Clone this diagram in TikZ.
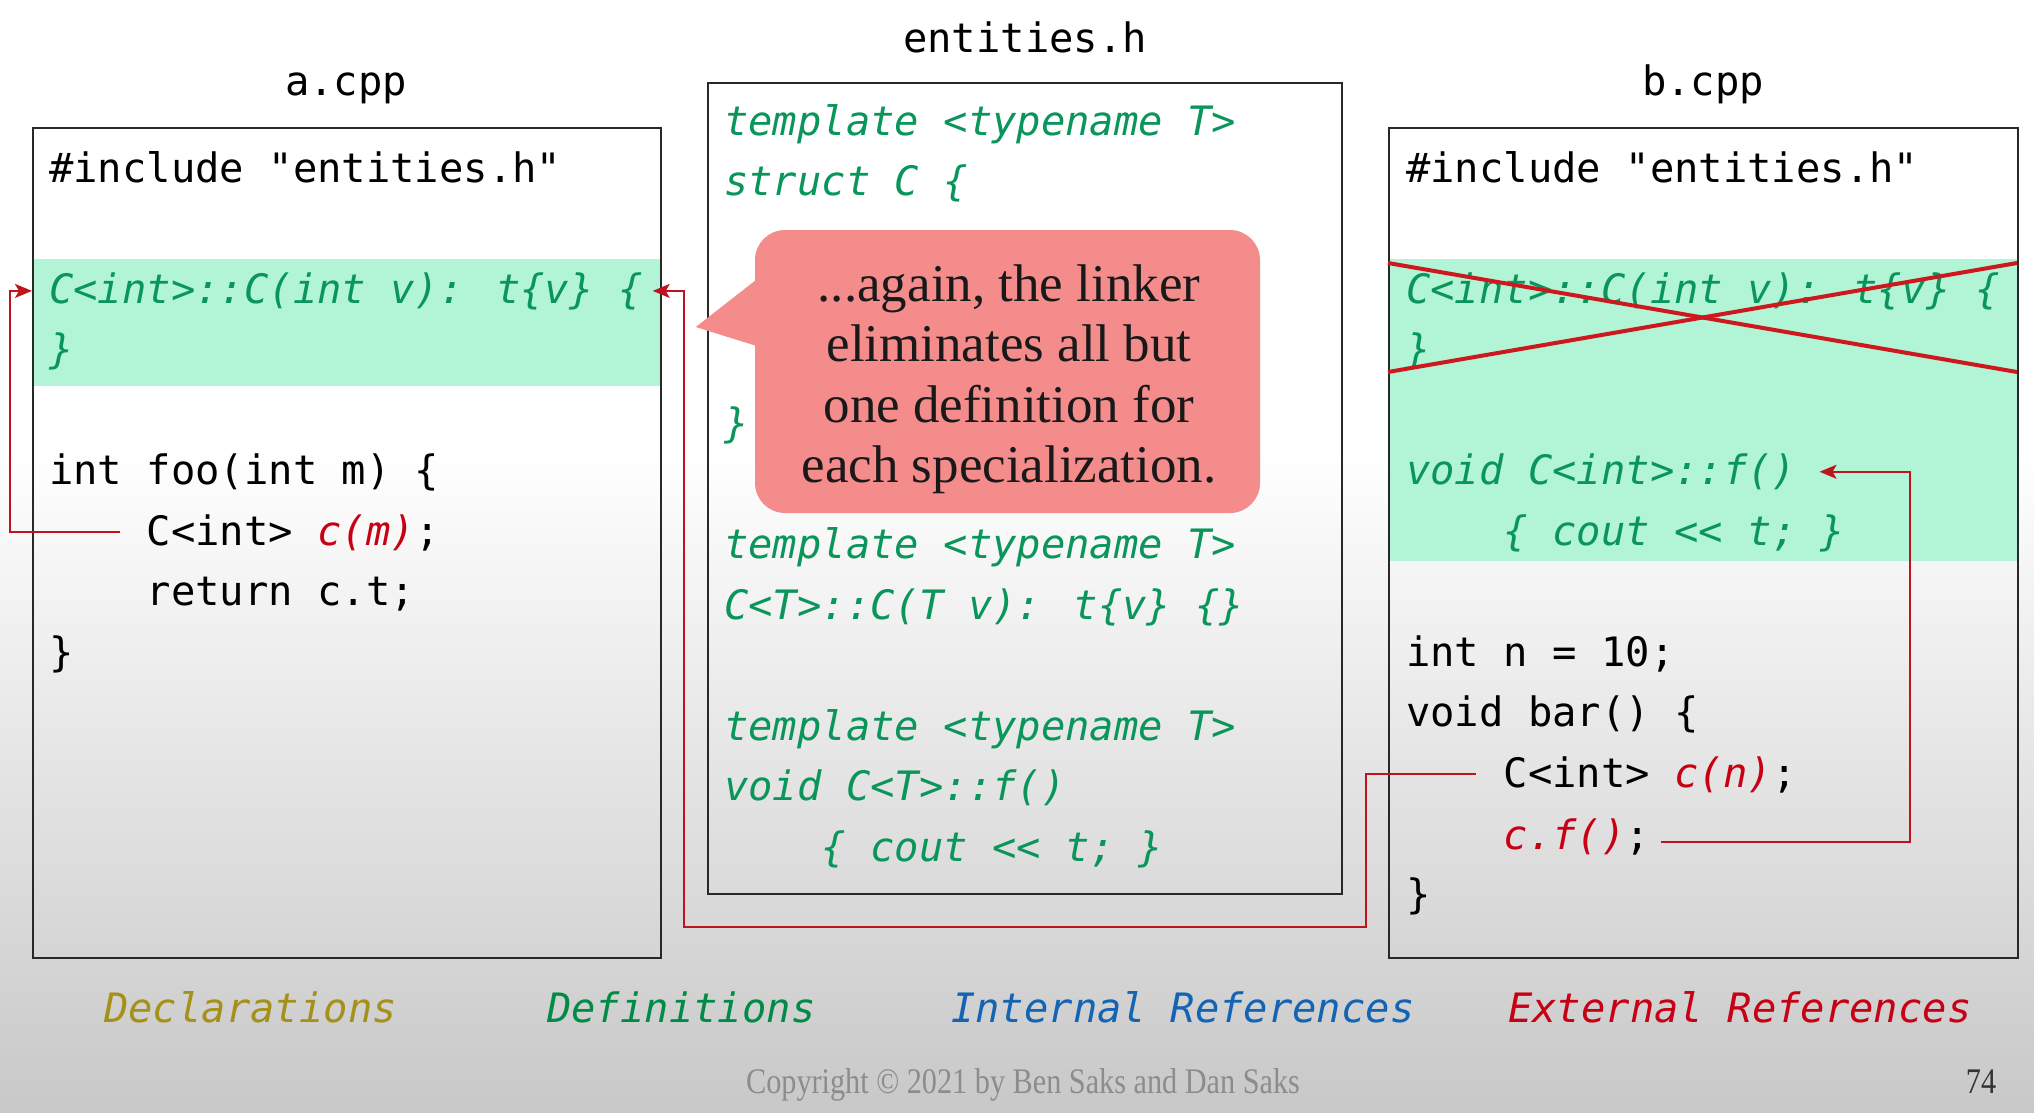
\documentclass[tikz,border=0pt]{standalone}
\usepackage{fontspec}
\usetikzlibrary{arrows.meta,calc}
\newfontfamily\codefont{DejaVu Sans Mono}[ItalicFont=DejaVu Sans Mono Oblique]
\newfontfamily\calloutfont{Liberation Serif}
\newfontfamily\copyfont{Liberation Serif}[FakeStretch=0.84]
\definecolor{bandgreen}{RGB}{178,244,214}
\definecolor{codegreen}{RGB}{10,150,90}
\definecolor{extred}{RGB}{200,0,20}
\definecolor{linkred}{RGB}{190,20,30}
\definecolor{crossred}{RGB}{205,25,30}
\definecolor{callfill}{RGB}{245,140,140}
\definecolor{bgbot}{RGB}{200,200,200}
\definecolor{declcol}{RGB}{165,145,25}
\definecolor{defcol}{RGB}{0,140,70}
\definecolor{intcol}{RGB}{20,100,180}
\definecolor{copycol}{RGB}{140,140,140}
\definecolor{boxline}{RGB}{40,40,40}
\tikzset{
  codeline/.style={font=\codefont\fontsize{40.5}{48}\selectfont, anchor=base west, inner sep=0pt, text=black},
  defline/.style={codeline, font=\codefont\itshape\fontsize{40.5}{48}\selectfont, text=codegreen},
  titletext/.style={font=\codefont\fontsize{40.5}{48}\selectfont, anchor=base, inner sep=0pt},
  legend/.style={font=\codefont\itshape\fontsize{40.5}{48}\selectfont, anchor=base west, inner sep=0pt},
  filebox/.style={draw=boxline, line width=1.8pt, anchor=north west, inner sep=0pt},
  link/.style={draw=linkred, line width=2pt, -{Stealth[length=17pt,width=14pt,inset=4pt]}},
  calloutshape/.style={fill=callfill, rounded corners=30pt, minimum width=505pt, minimum height=283pt, inner sep=0pt},
  callouttext/.style={align=center, inner sep=0pt, text=black!90, font=\calloutfont\fontsize{53}{60.5}\selectfont},
}
\newcommand{\ext}[1]{{\itshape\color{extred}#1}}
\begin{document}
\begin{tikzpicture}[x=1pt,y=-1pt]
\useasboundingbox (0,0) rectangle (2034,1112);
% background
\fill[white] (0,0) rectangle (2034,1112);
\shade[top color=white,bottom color=bgbot] (0,450) rectangle (2034,1112);
% green bands
\fill[bandgreen] (32,259) rectangle (660,386);
\fill[bandgreen] (1388,259) rectangle (2017,561);
% boxes
\node[filebox, minimum width=628pt, minimum height=830pt] (boxA) at (32,127) {};
\node[filebox, minimum width=634pt, minimum height=811pt] (boxM) at (707,82) {};
\node[filebox, minimum width=629pt, minimum height=830pt] (boxB) at (1388,127) {};
% titles
\node[titletext] (tA) at (346,95) {a.cpp};
\node[titletext] (tM) at (1025,52) {entities.h};
\node[titletext] (tB) at (1703,95) {b.cpp};
% a.cpp
\node[codeline] (incA) at (49,182) {\#include "entities.h"};
\node[defline] (defA) at (49,303) {C<int>::C(int v): t\{v\} \{};
\node[defline] (defAend) at (49,363.5) {\}};
\node[codeline] (foo) at (49,484.5) {int foo(int m) \{};
\node[codeline] (cm) at (146.6,545) {C<int> \ext{c(m)};};
\node[codeline] (ret) at (146.6,605.5) {return c.t;};
\node[codeline] (fooend) at (49,666) {\}};
% entities.h
\node[defline] (m1) at (724,135) {template <typename T>};
\node[defline] (m2) at (724,195.5) {struct C \{};
\node[defline] (m3) at (724,437.5) {\}};
\node[defline] (m4) at (724,558.5) {template <typename T>};
\node[defline] (m5) at (724,619) {C<T>::C(T v): t\{v\} \{\}};
\node[defline] (m6) at (724,740) {template <typename T>};
\node[defline] (m7) at (724,800.5) {void C<T>::f()};
\node[defline] (m8) at (821.6,861) {\{ cout << t; \}};
% b.cpp
\node[codeline] (incB) at (1406,182) {\#include "entities.h"};
\node[defline] (defB) at (1406,303) {C<int>::C(int v): t\{v\} \{};
\node[defline] (defBend) at (1406,363.5) {\}};
\node[defline] (fC) at (1406,484.5) {void C<int>::f()};
\node[defline] (fCbody) at (1503.6,545) {\{ cout << t; \}};
\node[codeline] (nn) at (1406,666) {int n = 10;};
\node[codeline] (bar) at (1406,726.5) {void bar() \{};
\node[codeline] (cn) at (1503.6,787) {C<int> \ext{c(n)};};
\node[codeline] (cf) at (1503.6,849) {\ext{c.f()};};
\node[codeline] (barend) at (1406,908) {\}};
% crossed-out definition
\draw[crossred, line width=4pt] (1388,263) -- (2017,372);
\draw[crossred, line width=4pt] (1388,372) -- (2017,263);
% connectors
\coordinate (l1) at (10,400);
\draw[link] ([xshift=-27pt]cm.west) -| (l1) |- (boxA.west |- defA.west);
\coordinate (r1) at (1366,927);
\coordinate (r2) at (684,927);
\draw[link] ([xshift=-28pt]cn.west) -| (r1) -- (r2) |- ([xshift=10pt]defA.east);
\coordinate (r3) at (1910,700);
\draw[link] ([xshift=11pt,yshift=-6pt]cf.east) -| (r3) |- ([xshift=23pt]fC.east);
% callout
\node[calloutshape] (co) at (1007.5,371.5) {};
\fill[callfill] ([xshift=5pt,yshift=94.5pt]co.west) -- ([xshift=-59pt,yshift=44.5pt]co.west) -- ([xshift=5pt,yshift=24.5pt]co.west) -- cycle;
\node[callouttext] (coText) at (1009,379) {...again, the linker\\eliminates all but\\one definition for\\each specialization.};
% legend
\node[legend, text=declcol] (lg1) at (104,1022) {Declarations};
\node[legend, text=defcol] (lg2) at (547,1022) {Definitions};
\node[legend, text=intcol] (lg3) at (951,1022) {Internal References};
\node[legend, text=extred] (lg4) at (1508,1022) {External References};
% footer
\node[anchor=base, inner sep=0pt, text=copycol, font=\copyfont\fontsize{36}{40}\selectfont] (copy) at (1023,1093) {Copyright © 2021 by Ben Saks and Dan Saks};
\node[anchor=base, inner sep=0pt, text=black!80, font=\copyfont\fontsize{36}{40}\selectfont] (pg) at (1981,1093) {74};
\end{tikzpicture}
\end{document}
